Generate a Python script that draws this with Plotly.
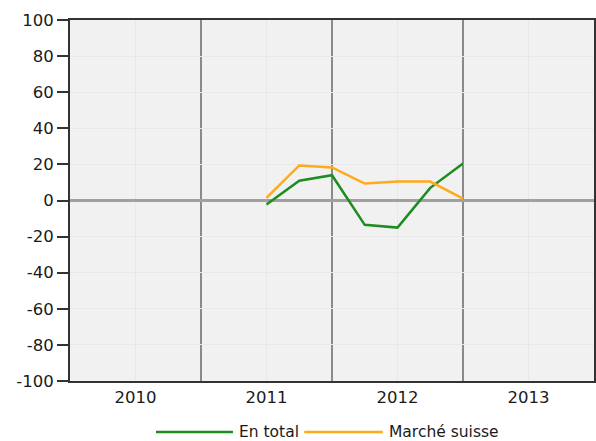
import plotly.graph_objects as go

# quarterly points, expressed as fractional years on the axis
trimestres = [2011.0, 2011.25, 2011.5, 2011.75, 2012.0, 2012.25, 2012.5]
en_total = [-2.2, 11, 14, -13.5, -15, 7, 20.5]
marche_suisse = [1.5, 19.4, 18.3, 9.4, 10.5, 10.5, 1]

annees = [2010, 2011, 2012, 2013]
annees_txt = ['2010', '2011', '2012', '2013']
y_vals = [-100, -80, -60, -40, -20, 0, 20, 40, 60, 80, 100]
y_txt = ['-100', '-80', '-60', '-40', '-20', '0', '20', '40', '60', '80', '100']

vert = '#1e8c1e'
orange = '#ffaa1a'

fig = go.Figure()

fig.add_trace(
    go.Scatter(
        x=trimestres,
        y=en_total,
        mode='lines',
        name='En total',
        line=dict(color=vert, width=2.5)
    )
)

fig.add_trace(
    go.Scatter(
        x=trimestres,
        y=marche_suisse,
        mode='lines',
        name='Marché suisse',
        line=dict(color=orange, width=2.5)
    )
)

# dark separators between years
for a in annees[:-1]:
    fig.add_vline(x=a + 0.5, line=dict(color='#8a8a8a', width=2), layer='below')

# legend drawn by hand below the plot (longer line samples than plotly's)
legende = [('En total', vert, 0.164, 0.311), ('Marché suisse', orange, 0.447, 0.597)]
for nom, coul, x0, x1 in legende:
    fig.add_shape(type='line', xref='paper', yref='paper',
                  x0=x0, x1=x1, y0=-0.141, y1=-0.141,
                  line=dict(color=coul, width=2.5))
    fig.add_annotation(xref='paper', yref='paper', x=x1 + 0.008, y=-0.141,
                       text=nom, showarrow=False, xanchor='left', yanchor='middle',
                       font=dict(size=15.5, color='#1a1a1a'))

fig.update_layout(
    width=596,
    height=441,
    margin=dict(l=70, r=2, t=20, b=60),
    paper_bgcolor='white',
    plot_bgcolor='#f1f1f1',
    font=dict(family='DejaVu Sans', size=16.5, color='#1a1a1a'),
    showlegend=False,
    xaxis=dict(
        range=[2009.5, 2013.5],
        tickvals=annees,
        ticktext=annees_txt,
        ticks='',
        showgrid=True,
        gridcolor='#e8e8e8',
        gridwidth=1,
        zeroline=False,
        showline=True,
        linecolor='#333333',
        linewidth=2,
        mirror=True,
        automargin=False,
    ),
    yaxis=dict(
        range=[-100, 100],
        tickvals=y_vals,
        ticktext=y_txt,
        ticks='outside',
        ticklen=11,
        tickwidth=1.5,
        tickcolor='#333333',
        showgrid=True,
        gridcolor='#e8e8e8',
        gridwidth=1,
        zeroline=True,
        zerolinecolor='#a0a0a0',
        zerolinewidth=2.5,
        showline=True,
        linecolor='#333333',
        linewidth=2,
        mirror=True,
        automargin=False,
    ),
)

# remove the default page margin so the figure sits at the window corner
fig.write_html("out.html", config={'displayModeBar': False},
               post_script="document.body.style.margin='0';")
